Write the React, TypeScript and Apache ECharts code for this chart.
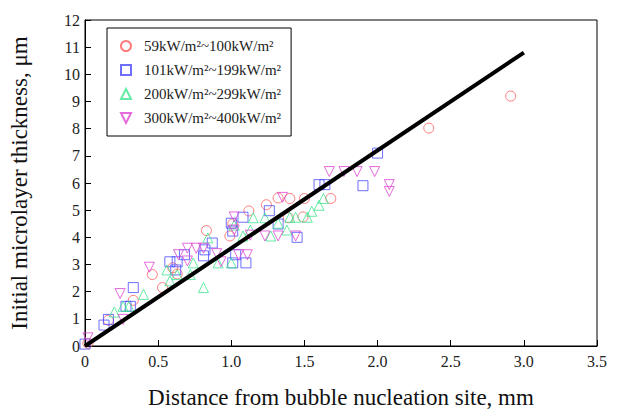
import React, { useEffect, useRef } from "react";
import * as echarts from "echarts";

const seriesNames = [
  "59kW/m²~100kW/m²",
  "101kW/m²~199kW/m²",
  "200kW/m²~299kW/m²",
  "300kW/m²~400kW/m²",
];

const redPoints: [number, number][] = [
  [0.02, 0.1], [0.16, 0.95], [0.33, 1.68], [0.46, 2.63], [0.53, 2.15], [0.63, 2.65],
  [0.6, 2.88], [0.83, 4.25], [0.99, 4.05], [1.01, 4.5], [1.12, 4.97], [1.24, 5.2],
  [1.32, 5.45], [1.4, 5.43], [1.5, 5.43], [1.68, 5.43], [1.39, 4.72], [1.49, 4.75],
  [2.35, 8.02], [2.91, 9.2],
];

const bluePoints: [number, number][] = [
  [0, 0.07], [0.13, 0.77], [0.16, 0.98], [0.28, 1.46], [0.31, 1.46], [0.33, 2.15],
  [0.58, 3.1], [0.63, 3.1], [0.62, 2.8], [0.68, 3.36], [0.81, 3.32], [0.82, 3.54],
  [0.87, 3.79], [1.0, 4.52], [1.01, 4.23], [1.08, 4.74], [1.26, 4.98], [1.01, 3.06],
  [1.1, 3.06], [1.03, 3.36], [1.32, 4.49], [1.45, 4.0], [1.6, 5.94], [1.64, 5.94],
  [1.9, 5.9], [2.0, 7.1],
];

const greenPoints: [number, number][] = [
  [0.2, 1.25], [0.26, 1.46], [0.3, 1.46], [0.4, 1.9], [0.56, 2.8], [0.58, 2.4],
  [0.63, 2.63], [0.72, 2.63], [0.74, 3.06], [0.81, 2.15], [0.84, 3.98], [0.91, 3.06],
  [1.0, 3.06], [1.02, 4.45], [1.08, 4.05], [1.15, 4.72], [1.13, 4.27], [1.23, 4.72],
  [1.27, 4.05], [1.32, 4.52], [1.38, 4.27], [1.4, 4.74], [1.44, 4.74], [1.52, 4.74],
  [1.55, 4.96], [1.6, 5.18], [1.63, 5.43],
];

const magentaPoints: [number, number][] = [
  [0.02, 0.3], [0.24, 1.93], [0.26, 0.98], [0.44, 2.9], [0.64, 3.36], [0.7, 3.6],
  [0.7, 3.13], [0.76, 3.6], [0.81, 3.6], [0.9, 3.4], [0.93, 3.1], [1.02, 4.75],
  [1.02, 4.27], [1.05, 3.36], [1.11, 3.36], [1.13, 4.08], [1.23, 4.05], [1.32, 4.05],
  [1.44, 4.05], [1.35, 5.47], [1.67, 6.42], [1.77, 6.42], [1.86, 6.42], [1.98, 6.42],
  [2.08, 5.94], [2.08, 5.69],
];

const fitLine: [number, number][] = [
  [0, 0],
  [3.0, 10.8],
];

const colors = ["#ff5c5c", "#4b4bff", "#3fe58f", "#df45d2"];
const symbols = ["circle", "rect", "triangle", "path://M0,0 L10,0 L5,10 Z"];
const legendIcons = ["circle", "rect", "triangle", "path://M0,0 L10,0 L5,10 Z"];
const sizes = [10, 10, 10, 10];

const FONT = "Liberation Serif";

export default function App() {
  const ref = useRef<HTMLDivElement>(null);
  useEffect(() => {
    document.body.style.margin = "0";
    if (!ref.current) return;
    const chart = echarts.init(ref.current, undefined, { renderer: "svg" });
    const datasets = [redPoints, bluePoints, greenPoints, magentaPoints];
    const scatter = datasets.map((d, i) => ({
      name: seriesNames[i],
      type: "scatter",
      data: d,
      symbol: symbols[i],
      symbolSize: sizes[i],
      itemStyle: {
        color: "rgba(0,0,0,0)",
        borderColor: colors[i],
        borderWidth: 1,
      },
      z: 3,
    }));
    const labelStyle = {
      fontFamily: FONT,
      fontSize: 16,
      color: "#222",
    };
    chart.setOption({
      animation: false,
      textStyle: { fontFamily: FONT },
      grid: {
        left: 84,
        right: 25,
        top: 20,
        bottom: 65,
        show: true,
        borderColor: "#000",
        borderWidth: 1,
        backgroundColor: "transparent",
      },
      legend: {
        data: seriesNames.map((n, i) => ({ name: n, icon: legendIcons[i] })),
        orient: "vertical",
        left: 107,
        top: 28,
        padding: [10, 10, 10, 13],
        itemWidth: 10,
        itemHeight: 10,
        itemGap: 8,
        backgroundColor: "#fff",
        borderColor: "#000",
        borderWidth: 1,
        textStyle: {
          fontFamily: FONT,
          fontSize: 15,
          color: "#222",
          lineHeight: 16,
          padding: [0, 0, 0, 8],
        },
      },
      xAxis: {
        type: "value",
        min: 0,
        max: 3.5,
        interval: 0.5,
        name: "Distance from bubble nucleation site, mm",
        nameLocation: "middle",
        nameGap: 40,
        nameTextStyle: { fontFamily: FONT, fontSize: 23, color: "#111" },
        axisLine: { show: true, lineStyle: { color: "#000", width: 1 } },
        axisTick: { show: true, inside: true, length: 6, lineStyle: { color: "#000" } },
        splitLine: { show: false },
        axisLabel: {
          ...labelStyle,
          margin: 7,
          formatter: (v: number) => (v === 0 ? "0" : v.toFixed(1)),
        },
      },
      yAxis: {
        type: "value",
        min: 0,
        max: 12,
        interval: 1,
        name: "Initial microlayer thickness, μm",
        nameLocation: "middle",
        nameGap: 54,
        nameTextStyle: { fontFamily: FONT, fontSize: 23, color: "#111" },
        axisLine: { show: true, lineStyle: { color: "#000", width: 1 } },
        axisTick: { show: true, inside: true, length: 6, lineStyle: { color: "#000" } },
        splitLine: { show: false },
        axisLabel: {
          ...labelStyle,
          margin: 5,
        },
      },
      series: [
        ...scatter,
        {
          name: "fit",
          type: "line",
          data: fitLine,
          symbol: "none",
          lineStyle: { color: "#000", width: 4 },
          z: 5,
        },
      ],
    });
    return () => chart.dispose();
  }, []);
  return <div ref={ref} style={{ width: 622, height: 414 }} />;
}
